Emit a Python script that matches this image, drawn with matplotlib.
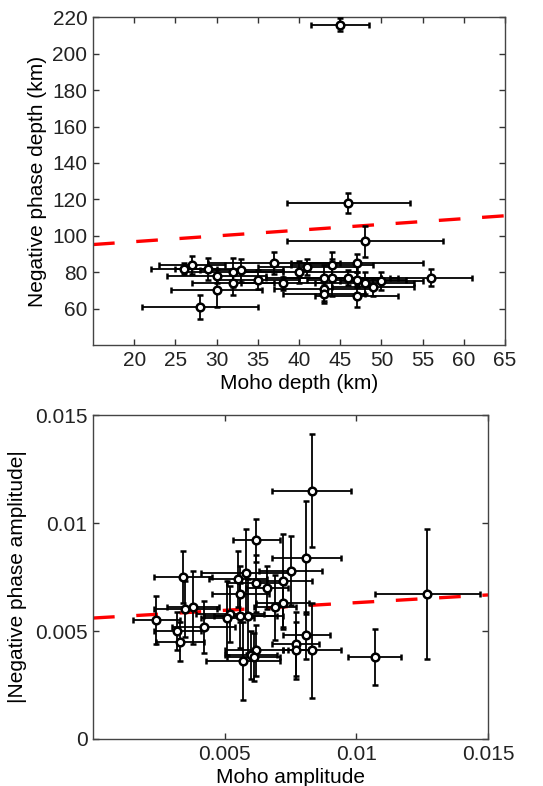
import matplotlib
matplotlib.use("Agg")
import matplotlib.pyplot as plt
import numpy as np

plt.rcParams['font.family'] = ['Liberation Sans', 'DejaVu Sans']

# ---- Top panel data: Moho depth vs negative phase depth (km) ----
moho_depth = [45, 46, 48, 28, 30, 26, 27, 29, 30, 32, 32, 33, 35, 37, 38,
              40, 41, 43, 43, 43, 44, 44, 46, 47, 47, 47, 48, 49, 50, 56]
moho_depth_err = [3.5, 7.5, 9.5, 7, 5.5, 4, 4, 4, 6, 6, 5, 5, 5, 8, 5,
                  7, 6, 7, 6, 5, 5, 6, 6, 8, 6, 5, 6, 5, 5, 5]
neg_depth = [216, 118, 97, 61, 70, 82, 84, 82, 78, 80, 74, 81, 76, 85, 74,
             80, 83, 77, 71, 68, 84, 77, 77, 85, 76, 67, 74, 72, 75, 77]
neg_depth_err = [3.5, 5.5, 8.5, 6.5, 9, 3, 5, 6, 4, 8, 6.5, 6.5, 5, 6, 3.5,
                 6, 4.5, 7, 7, 5, 7, 10, 4, 5, 4, 6, 6, 5, 5, 4.5]
top_fit_x = [15, 65]
top_fit_y = [95.2, 111.0]

# ---- Bottom panel data: Moho amplitude vs |negative phase amplitude| ----
moho_amp = [0.0083, 0.0127, 0.0107, 0.0081, 0.0062, 0.0075, 0.0072, 0.0072,
            0.0069, 0.0066, 0.0062, 0.0058, 0.0055, 0.0056, 0.0056, 0.0059,
            0.0052, 0.0051, 0.0042, 0.0038, 0.0035, 0.0034, 0.0032, 0.0033,
            0.0024, 0.0081, 0.0077, 0.0077, 0.0083, 0.0062, 0.0060, 0.0061,
            0.0057]
moho_amp_err = [0.0015, 0.0020, 0.0010, 0.0013, 0.0009, 0.0012, 0.0011, 0.0010,
                0.0008, 0.0008, 0.0011, 0.0017, 0.0011, 0.0011, 0.0014, 0.0013,
                0.0013, 0.0010, 0.0012, 0.0010, 0.0012, 0.0011, 0.0009, 0.0009,
                0.0009, 0.0009, 0.0009, 0.0005, 0.0011, 0.0012, 0.0010, 0.0010,
                0.0014]
neg_amp = [0.0115, 0.0067, 0.0038, 0.0084, 0.0092, 0.0078, 0.0073, 0.0063,
           0.0061, 0.0070, 0.0072, 0.0077, 0.0074, 0.0067, 0.0057, 0.0057,
           0.0058, 0.0056, 0.0052, 0.0061, 0.0060, 0.0075, 0.0050, 0.0045,
           0.0055, 0.0048, 0.0044, 0.0041, 0.0041, 0.0041, 0.0039, 0.0038,
           0.0036]
neg_amp_err = [0.0026, 0.0030, 0.0013, 0.0026, 0.0010, 0.0016, 0.0022, 0.0011,
               0.0015, 0.0010, 0.0013, 0.0020, 0.0013, 0.0013, 0.0015, 0.0017,
               0.0013, 0.0017, 0.0012, 0.0017, 0.0013, 0.0012, 0.0009, 0.0009,
               0.0011, 0.0011, 0.0015, 0.0013, 0.0022, 0.0012, 0.0011, 0.0011,
               0.0018]
bot_fit_x = [0.0, 0.015]
bot_fit_y = [0.0056, 0.00667]

top_xticks = [20, 25, 30, 35, 40, 45, 50, 55, 60, 65]
top_yticks = [60, 80, 100, 120, 140, 160, 180, 200, 220]
bot_xticks = [0.005, 0.01, 0.015]
bot_xticklabels = ['0.005', '0.01', '0.015']
bot_yticks = [0, 0.005, 0.01, 0.015]
bot_yticklabels = ['0', '0.005', '0.01', '0.015']

FS = 15
fig = plt.figure(figsize=(5.43, 7.86), dpi=100)
ax1 = fig.add_axes([0.1713, 0.561, 0.930 - 0.1713, 0.978 - 0.561])
ax2 = fig.add_axes([0.1713, 0.0598, 0.8987 - 0.1713, 0.472 - 0.0598])

eb_kw = dict(fmt='o', color='black', ecolor='black', elinewidth=1.3,
             capsize=2.5, capthick=2.2, markersize=5.5, mfc='white',
             mec='black', mew=1.8, zorder=3)

ax1.plot(top_fit_x, top_fit_y, color='#ff0000', lw=2.4, dashes=(6.5, 6.5), zorder=2)
ax1.errorbar(moho_depth, neg_depth, xerr=moho_depth_err, yerr=neg_depth_err, **eb_kw)
ax1.set_xlim(15, 65)
ax1.set_ylim(40, 220)
ax1.set_xticks(top_xticks)
ax1.set_yticks(top_yticks)
ax1.set_xlabel('Moho depth (km)', fontsize=FS, labelpad=3)
ax1.set_ylabel('Negative phase depth (km)', fontsize=FS, labelpad=4)

ax2.plot(bot_fit_x, bot_fit_y, color='#ff0000', lw=2.4, dashes=(6.5, 6.5), zorder=2)
ax2.errorbar(moho_amp, neg_amp, xerr=moho_amp_err, yerr=neg_amp_err, **eb_kw)
ax2.set_xlim(0, 0.015)
ax2.set_ylim(0, 0.015)
ax2.set_xticks(bot_xticks)
ax2.set_xticklabels(bot_xticklabels)
ax2.set_yticks(bot_yticks)
ax2.set_yticklabels(bot_yticklabels)
ax2.set_xlabel('Moho amplitude', fontsize=FS, labelpad=3)
ax2.set_ylabel('|Negative phase amplitude|', fontsize=FS, labelpad=6)

for ax in (ax1, ax2):
    ax.tick_params(direction='in', top=True, right=True, length=4, width=1,
                   labelsize=FS, color='#333333', labelcolor='#222222', pad=4)
    for s in ax.spines.values():
        s.set_color('#444444')
        s.set_linewidth(1.0)

fig.savefig('out.png', dpi=100)
